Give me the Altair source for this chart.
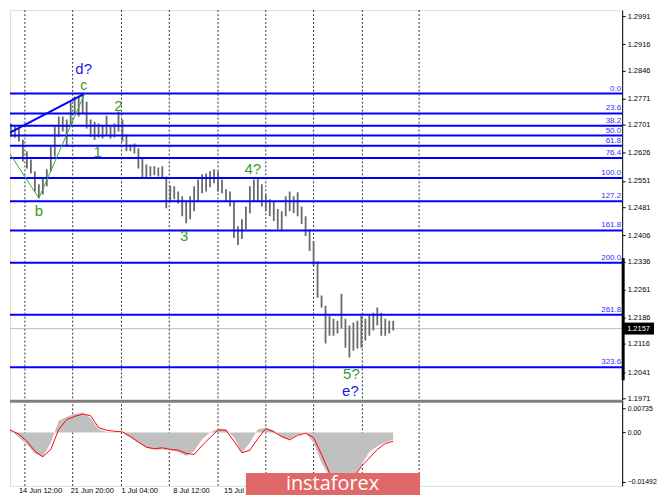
import altair as alt
import pandas as pd

# ---------------- price bars ----------------
bar_idx = list(range(99))
bar_high = [1.2749, 1.2709, 1.2704, 1.2696, 1.2691, 1.2661, 1.2630, 1.2608, 1.2577, 1.2542,
            1.2561, 1.2582, 1.2643, 1.2696, 1.2723, 1.2723, 1.2715, 1.2762, 1.2776, 1.2778,
            1.2784, 1.2762, 1.2715, 1.2709, 1.2704, 1.2699, 1.2725, 1.2696, 1.2704, 1.2736,
            1.2715, 1.2675, 1.2648, 1.2651, 1.2638, 1.2611, 1.2595, 1.2590, 1.2590, 1.2587,
            1.2590, 1.2563, 1.2539, 1.2537, 1.2523, 1.2510, 1.2497, 1.2510, 1.2537, 1.2555,
            1.2569, 1.2571, 1.2577, 1.2582, 1.2577, 1.2555, 1.2529, 1.2523, 1.2497, 1.2430,
            1.2449, 1.2483, 1.2537, 1.2555, 1.2558, 1.2542, 1.2515, 1.2502, 1.2497, 1.2476,
            1.2470, 1.2510, 1.2523, 1.2510, 1.2521, 1.2483, 1.2457, 1.2422, 1.2391, 1.2337,
            1.2245, 1.2218, 1.2191, 1.2183, 1.2178, 1.2250, 1.2183, 1.2165, 1.2173, 1.2178,
            1.2191, 1.2183, 1.2191, 1.2199, 1.2213, 1.2199, 1.2183, 1.2178, 1.2178]
bar_low = [1.2683, 1.2675, 1.2669, 1.2667, 1.2656, 1.2603, 1.2584, 1.2571, 1.2523, 1.2505,
           1.2515, 1.2537, 1.2577, 1.2616, 1.2669, 1.2683, 1.2643, 1.2696, 1.2731, 1.2723,
           1.2731, 1.2691, 1.2669, 1.2661, 1.2667, 1.2664, 1.2672, 1.2664, 1.2667, 1.2683,
           1.2656, 1.2630, 1.2630, 1.2624, 1.2584, 1.2558, 1.2558, 1.2563, 1.2566, 1.2563,
           1.2558, 1.2478, 1.2497, 1.2502, 1.2491, 1.2457, 1.2438, 1.2449, 1.2470, 1.2497,
           1.2518, 1.2523, 1.2534, 1.2545, 1.2523, 1.2518, 1.2497, 1.2483, 1.2399, 1.2380,
           1.2396, 1.2422, 1.2465, 1.2497, 1.2497, 1.2483, 1.2470, 1.2457, 1.2444, 1.2422,
           1.2417, 1.2457, 1.2470, 1.2465, 1.2457, 1.2436, 1.2404, 1.2364, 1.2324, 1.2239,
           1.2213, 1.2117, 1.2138, 1.2138, 1.2144, 1.2157, 1.2106, 1.2080, 1.2098, 1.2104,
           1.2106, 1.2125, 1.2138, 1.2152, 1.2165, 1.2138, 1.2138, 1.2144, 1.2152]

# ---------------- MACD (every second bar) ----------------
macd_idx = list(range(0, 99, 2))
macd_hist = [0.0017, 0.0005, -0.0015, -0.0036, -0.0063, -0.0074, -0.0031, 0.0036, 0.0048, 0.0056,
             0.0061, 0.0043, 0.0010, 0.0002, 0.0002, 0.0000, -0.0015, -0.0031, -0.0046, -0.0051,
             -0.0051, -0.0053, -0.0059, -0.0071, -0.0056, -0.0020, 0.0000, 0.0012, 0.0010, -0.0015,
             -0.0061, -0.0031, 0.0010, 0.0015, 0.0007, -0.0015, -0.0020, -0.0005, 0.0000, -0.0031,
             -0.0092, -0.0133, -0.0147, -0.0149, -0.0143, -0.0097, -0.0059, -0.0041, -0.0029, -0.0022]
macd_signal = [0.0015, 0.0007, -0.0005, -0.0026, -0.0056, -0.0073, -0.0051, 0.0010, 0.0039, 0.0049,
               0.0056, 0.0051, 0.0015, 0.0007, 0.0004, 0.0002, -0.0012, -0.0029, -0.0044, -0.0049,
               -0.0046, -0.0051, -0.0053, -0.0063, -0.0066, -0.0039, -0.0015, 0.0008, 0.0007, -0.0026,
               -0.0061, -0.0053, -0.0018, 0.0012, 0.0002, -0.0012, -0.0022, -0.0008, -0.0002, -0.0015,
               -0.0066, -0.0122, -0.0150, -0.0152, -0.0138, -0.0102, -0.0077, -0.0051, -0.0033, -0.0026]

# ---------------- levels, ticks, labels ----------------
fib_names = ["0.0", "23.6", "38.2", "50.0", "61.8", "76.4", "100.0", "127.2",
             "161.8", "200.0", "261.8", "323.6"]
fib_prices = [1.2784, 1.2731, 1.2698, 1.2672, 1.2645, 1.2612, 1.2559, 1.2497,
              1.2419, 1.2333, 1.2194, 1.2054]
price_ticks = [1.2991, 1.2916, 1.2846, 1.2771, 1.2701, 1.2626, 1.2551, 1.2481,
               1.2406, 1.2336, 1.2261, 1.2186, 1.2116, 1.2041, 1.1971]
last_price = [1.2157]
range_marker = [1.2345, 1.2019]
macd_ticks = [0.00735, 0.0, -0.01492]

grid_pos = [5.5, 17.5, 29.75, 41.75, 54, 66, 78, 90.25, 104.5]
time_pos = [4, 17, 29.75, 42.75, 55.5]
time_text = ["14 Jun 12:00", "21 Jun 20:00", "1 Jul 04:00", "8 Jul 12:00", "15 Jul 20:00"]

wave_text = ["d?", "c", "2", "1", "b", "3", "4?", "5?", "e?"]
wave_i = [20.25, 20.25, 29, 23.75, 9, 45.5, 62.75, 87.5, 87.25]
wave_p = [1.2850, 1.2804, 1.2752, 1.2627, 1.2470, 1.2404, 1.2582, 1.2037, 1.1990]
wave_col = ["blue", "green", "green", "green", "green", "green", "green", "green", "blue"]
wave_size = [15, 14, 15, 15, 15, 15, 15, 15, 15]

blue_line_i = [-0.25, 20.5]
blue_line_p = [1.2669, 1.2784]
green_line_i = [-0.25, 9, 20.5]
green_line_p = [1.2656, 1.2505, 1.2784]

# ---------------- layout constants ----------------
W = 615
H_MAIN = 392
H_MACD = 86
FONT = "Liberation Sans"
GREEN = "#3a9a2a"
BLUE = "#1a1aee"

xs = alt.Scale(domain=[1.75, 1.75 + W / 4], nice=False, zero=False)
ys = alt.Scale(domain=[1.19656, 1.30068], nice=False, zero=False)
ms = alt.Scale(domain=[-0.016124, 0.009758], nice=False, zero=False)

price_axis = alt.Axis(orient="right", values=price_ticks, format=".4f", title=None,
                      grid=False, tickSize=3, labelPadding=2, labelFontSize=7.5,
                      labelColor="black", domainColor="black", tickColor="black",
                      labelFont=FONT, labelFlush=False, labelOverlap=False)
macd_axis = alt.Axis(orient="right", values=macd_ticks, title=None, grid=False,
                     labelExpr="datum.value == 0 ? '0.00' : format(datum.value, '.5f')",
                     tickSize=3, labelPadding=2, labelFontSize=7, labelColor="black",
                     domainColor="black", tickColor="black", labelFont=FONT,
                     labelFlush=False, labelOverlap=False)

# ---------------- main panel ----------------
grid_df = pd.DataFrame({"g": grid_pos})
bars_df = pd.DataFrame({"i": bar_idx, "hi": bar_high, "lo": bar_low})
fib_df = pd.DataFrame({"name": fib_names, "p": fib_prices})
last_df = pd.DataFrame({"p": last_price})
range_df = pd.DataFrame({"a": [range_marker[0]], "b": [range_marker[1]]})
wave_df = pd.DataFrame({"t": wave_text, "i": wave_i, "p": wave_p, "c": wave_col, "s": wave_size})
blue_df = pd.DataFrame({"i": blue_line_i, "p": blue_line_p})
green_df = pd.DataFrame({"i": green_line_i, "p": green_line_p})

grid_main = alt.Chart(grid_df).mark_rule(color="#333333", strokeDash=[2, 2], strokeWidth=1).encode(
    x=alt.X("g:Q", scale=xs, axis=None))

last_line = alt.Chart(last_df).mark_rule(color="#c0c0c0", strokeWidth=1).encode(
    y=alt.Y("p:Q", scale=ys, axis=price_axis))

bars = alt.Chart(bars_df).mark_rule(color="#6a6a6a", strokeWidth=1.8, clip=True).encode(
    x=alt.X("i:Q", scale=xs, axis=None),
    y=alt.Y("lo:Q", scale=ys, axis=price_axis),
    y2="hi:Q")

fib_lines = alt.Chart(fib_df).mark_rule(color="#0000ff", strokeWidth=2).encode(
    y=alt.Y("p:Q", scale=ys, axis=price_axis))

fib_labels = alt.Chart(fib_df).mark_text(color="#3030ff", align="right", baseline="bottom",
                                         fontSize=8, font=FONT, dy=-1).encode(
    y=alt.Y("p:Q", scale=ys, axis=price_axis), x=alt.value(W - 1), text="name:N")

blue_line = alt.Chart(blue_df).mark_line(color="#0000ff", strokeWidth=2, clip=True).encode(
    x=alt.X("i:Q", scale=xs, axis=None), y=alt.Y("p:Q", scale=ys, axis=price_axis))

green_line = alt.Chart(green_df).mark_line(color="#33aa33", strokeWidth=1, clip=True).encode(
    x=alt.X("i:Q", scale=xs, axis=None), y=alt.Y("p:Q", scale=ys, axis=price_axis))

waves = alt.Chart(wave_df).mark_text(font=FONT, baseline="middle", align="center").encode(
    x=alt.X("i:Q", scale=xs, axis=None), y=alt.Y("p:Q", scale=ys, axis=price_axis), text="t:N",
    size=alt.Size("s:Q", scale=None, legend=None),
    color=alt.Color("c:N", scale=alt.Scale(domain=["blue", "green"], range=[BLUE, GREEN]), legend=None))

range_bar = alt.Chart(range_df).mark_rule(color="black", strokeWidth=3).encode(
    x=alt.value(W + 1), y=alt.Y("a:Q", scale=ys, axis=price_axis), y2="b:Q")

price_box = alt.Chart(last_df).mark_rect(color="black", yOffset=-6, y2Offset=6).encode(
    x=alt.value(W + 1), x2=alt.value(W + 32),
    y=alt.Y("p:Q", scale=ys, axis=price_axis), y2="p:Q")

price_txt = alt.Chart(last_df).mark_text(color="white", align="left", baseline="middle",
                                         fontSize=7.5, font=FONT).encode(
    x=alt.value(W + 5), y=alt.Y("p:Q", scale=ys, axis=price_axis),
    text=alt.Text("p:Q", format=".4f"))

main = alt.layer(grid_main, last_line, bars, fib_lines, fib_labels, blue_line, green_line,
                 waves, range_bar, price_box, price_txt).properties(width=W, height=H_MAIN)

# ---------------- MACD panel ----------------
macd_df = pd.DataFrame({"i": macd_idx, "h": macd_hist, "s": macd_signal})
time_df = pd.DataFrame({"i": time_pos, "t": time_text})

grid_macd = alt.Chart(grid_df).mark_rule(color="#333333", strokeDash=[2, 2], strokeWidth=1).encode(
    x=alt.X("g:Q", scale=xs, axis=None))

hist = alt.Chart(macd_df).mark_area(color="#c0c0c0", clip=True, interpolate="linear").encode(
    x=alt.X("i:Q", scale=xs, axis=None),
    y=alt.Y("h:Q", scale=ms, axis=macd_axis),
    y2=alt.datum(0))

signal = alt.Chart(macd_df).mark_line(color="#ff0000", strokeWidth=1, clip=True).encode(
    x=alt.X("i:Q", scale=xs, axis=None),
    y=alt.Y("s:Q", scale=ms, axis=macd_axis))

separator = alt.Chart(last_df).mark_rule(color="#808080", strokeWidth=3).encode(
    x=alt.value(0), x2=alt.value(W), y=alt.value(1))

time_labels = alt.Chart(time_df).mark_text(align="left", baseline="middle", fontSize=7.5,
                                           font=FONT, color="black").encode(
    x=alt.X("i:Q", scale=xs, axis=None), y=alt.value(H_MACD + 5), text="t:N")

logo_box = alt.Chart(last_df).mark_rect(color="#e06868").encode(
    x=alt.value(237), x2=alt.value(412), y=alt.value(73), y2=alt.value(95))

logo_txt = alt.Chart(last_df).mark_text(text="instaforex", color="white", fontSize=20,
                                        font="Open Sans", align="center", baseline="middle").encode(
    x=alt.value(324), y=alt.value(84))

macd = alt.layer(grid_macd, hist, signal, separator, time_labels, logo_box, logo_txt).properties(
    width=W, height=H_MACD)

chart = alt.vconcat(main, macd, spacing=0, bounds="flush").properties(
    padding=0, background="white").configure_view(stroke=None).configure(font=FONT)

chart.save("out.html", embed_options={"renderer": "svg", "actions": False})
